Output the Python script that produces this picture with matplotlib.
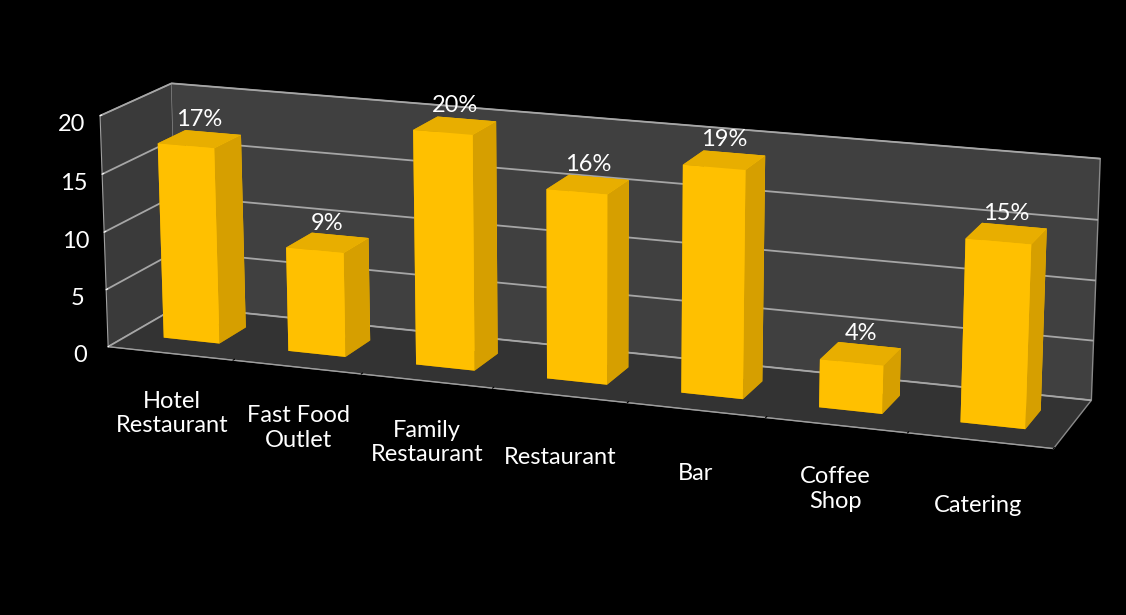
import numpy as np
import matplotlib
matplotlib.use('Agg')
import matplotlib.pyplot as plt

# chart data
categories = ['Hotel\nRestaurant', 'Fast Food\nOutlet', 'Family\nRestaurant', 'Restaurant',
              'Bar', 'Coffee\nShop', 'Catering']
values = [17, 9, 20, 16, 19, 4, 15]
pct_labels = ['17%', '9%', '20%', '16%', '19%', '4%', '15%']
z_ticks = [0, 5, 10, 15, 20]

plt.rcParams['font.family'] = ['Lato', 'DejaVu Sans']

fig = plt.figure(figsize=(11.26, 6.15), dpi=100, facecolor='black')
# big axes instead of a big zoom: zoom > ~1.2 makes the perspective clip eat the end bars
ax = fig.add_axes([-0.26, -0.257, 1.54, 1.638], projection='3d', facecolor='black')
ax.set_proj_type('persp', focal_length=0.68)
ax.view_init(elev=15, azim=-70)
ax.set_box_aspect((7, 1.15, 1.72), zoom=1.0)

n = len(values)
x = np.arange(n)
w = 0.45
depth = 1.15
# face order in bar3d: bottom, top, front, back, left, right
face_cols = ['#b88a00', '#E8AE00', '#FFC000', '#FFC000', '#D69F00', '#D69F00']
for i in range(n):
    ax.bar3d(x[i] - w / 2, depth / 2 - w / 2, 0, w, w, values[i],
             color=face_cols, shade=False)

for i in range(n):
    ax.text(x[i], depth / 2, values[i] + 0.8, pct_labels[i], color='white',
            fontsize=17, ha='center', va='bottom')
    ax.text(x[i], 0.0, -5.3, categories[i], color='white', fontsize=17,
            ha='center', va='center', multialignment='center')

ax.set_xlim(-0.5, n - 0.5)
ax.set_ylim(0, depth)
ax.set_zlim(0, 20)
ax.set_xticks(np.arange(-0.5, n, 1))
ax.set_xticklabels([])
ax.set_yticks([])
ax.set_zticks(z_ticks)
ax.zaxis.set_ticks_position('lower')
ax.tick_params(axis='z', colors='white', labelsize=17)

# panes: x pane = left wall, y pane = back wall, z pane = floor
ax.xaxis.set_pane_color('#3a3a3a')
ax.yaxis.set_pane_color('#404040')
ax.zaxis.set_pane_color('#333333')
for a in (ax.xaxis, ax.yaxis, ax.zaxis):
    a.pane.set_edgecolor('#8a8a8a')

ax.grid(True)
ax.xaxis._axinfo['grid']['color'] = (0, 0, 0, 0)
ax.yaxis._axinfo['grid']['color'] = (0, 0, 0, 0)
ax.zaxis._axinfo['grid']['color'] = '#a6a6a6'
ax.zaxis._axinfo['grid']['linewidth'] = 1.3

ax.xaxis.line.set_color('#a0a0a0')
ax.zaxis.line.set_color('#a0a0a0')
ax.yaxis.line.set_color((0, 0, 0, 0))
for a in (ax.xaxis, ax.zaxis):
    a._axinfo['tick']['inward_factor'] = 0
    a._axinfo['tick']['outward_factor'] = 0.25
    a._axinfo['tick']['color'] = '#a0a0a0'

fig.savefig('out.png', dpi=100, facecolor='black')
